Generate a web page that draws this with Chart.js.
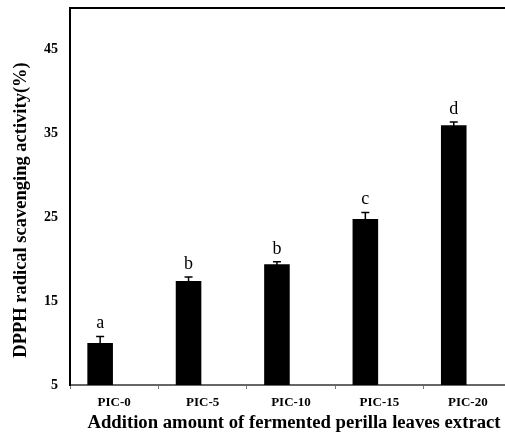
<!DOCTYPE html>
<html>
<head>
<meta charset="utf-8">
<script src="https://cdn.jsdelivr.net/npm/chart.js@4"></script>
<style>
  html, body { margin: 0; padding: 0; background: #fff; overflow: hidden; }
  #wrap { width: 505px; height: 436px; overflow: hidden; }
</style>
</head>
<body>
<div id="wrap"><canvas id="chart" width="514" height="436"></canvas></div>
<script>
// values
const labels = ['PIC-0', 'PIC-5', 'PIC-10', 'PIC-15', 'PIC-20'];
const means = [10.0, 17.4, 19.4, 24.8, 36.0];
const errors = [0.8, 0.5, 0.3, 0.8, 0.4];
const letters = ['a', 'b', 'b', 'c', 'd'];
const yTicks = [5, 15, 25, 35, 45];
const xTitle = 'Addition amount of fermented perilla leaves extract';
const yTitle = 'DPPH radical scavenging activity(%)';

const serif = "'Liberation Serif', 'Times New Roman', serif";

// error bars, letters, axis titles and the top border of the box
const extras = {
    id: 'extras',
    afterDatasetsDraw(chart) {
        const ctx = chart.ctx;
        const y = chart.scales.y;
        const area = chart.chartArea;
        const meta = chart.getDatasetMeta(0);

        ctx.save();
        ctx.strokeStyle = '#000';
        ctx.lineWidth = 1.5;
        meta.data.forEach(function(bar, i) {
            const top = y.getPixelForValue(means[i] + errors[i]);
            const bot = y.getPixelForValue(means[i] - errors[i]);
            ctx.beginPath();
            ctx.moveTo(bar.x, bot);
            ctx.lineTo(bar.x, top);
            ctx.moveTo(bar.x - 4, top);
            ctx.lineTo(bar.x + 4, top);
            ctx.stroke();

            ctx.fillStyle = '#000';
            ctx.font = '18px ' + serif;
            ctx.textAlign = 'center';
            ctx.textBaseline = 'alphabetic';
            ctx.fillText(letters[i], bar.x, top - 8);
        });

        // top line of the frame
        ctx.lineWidth = 2;
        ctx.beginPath();
        ctx.moveTo(area.left - 1, area.top);
        ctx.lineTo(area.right, area.top);
        ctx.stroke();

        // axis titles
        ctx.fillStyle = '#000';
        ctx.font = 'bold 18.7px ' + serif;
        ctx.textAlign = 'center';
        ctx.textBaseline = 'middle';
        ctx.fillText(xTitle, 294, 423);

        ctx.font = 'bold 18.5px ' + serif;
        ctx.translate(21, 210);
        ctx.rotate(-Math.PI / 2);
        ctx.fillText(yTitle, 0, 0);
        ctx.restore();
    }
};

new Chart(document.getElementById('chart'), {
    type: 'bar',
    data: {
        labels: labels,
        datasets: [
            {
                data: means,
                backgroundColor: '#000',
                borderWidth: 0,
                categoryPercentage: 0.636,
                barPercentage: 0.91
            },
            {
                // empty slot, pushes the bars left of the label
                data: labels.map(() => null),
                backgroundColor: 'rgba(0,0,0,0)',
                categoryPercentage: 0.636,
                barPercentage: 0.91
            }
        ]
    },
    options: {
        responsive: false,
        animation: false,
        layout: { padding: { top: 8, right: 2, bottom: 0, left: 0 } },
        plugins: {
            legend: { display: false },
            tooltip: { enabled: false }
        },
        scales: {
            x: {
                offset: true,
                grid: {
                    display: true,
                    offset: true,
                    drawOnChartArea: false,
                    drawTicks: true,
                    tickLength: 4,
                    color: '#777',
                    lineWidth: 1
                },
                border: { display: true, color: '#666', width: 2 },
                ticks: {
                    color: '#000',
                    font: { family: serif, size: 13, weight: 'bold' },
                    padding: 6,
                    maxRotation: 0
                },
                afterFit(scale) {
                    scale.height = 51;
                    scale.paddingLeft = 0;
                    scale.paddingRight = 0;
                }
            },
            y: {
                min: 5,
                max: 50,
                grid: { display: false },
                border: { display: true, color: '#000', width: 2 },
                ticks: {
                    color: '#000',
                    font: { family: serif, size: 14, weight: 'bold' },
                    padding: 4
                },
                afterBuildTicks(scale) {
                    scale.ticks = yTicks.map(v => ({ value: v }));
                },
                afterFit(scale) {
                    scale.width = 70;
                    scale.paddingTop = 0;
                    scale.paddingBottom = 0;
                }
            }
        }
    },
    plugins: [extras]
});
</script>
</body>
</html>
